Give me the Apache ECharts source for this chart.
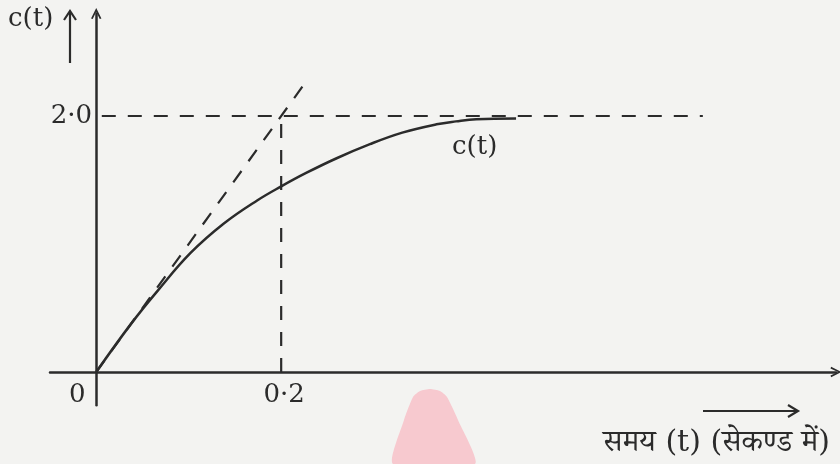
<!DOCTYPE html>
<html lang="hi">
<head>
<meta charset="utf-8">
<title>c(t)</title>
<script src="https://cdn.jsdelivr.net/npm/echarts@6/dist/echarts.min.js"></script>
<style>
  html, body { margin: 0; padding: 0; background: #f3f3f1; }
  #chart { width: 840px; height: 464px; }
</style>
</head>
<body>
<div id="chart"></div>
<script>
// response curve c(t)
var curveT = [0, 0.038, 0.067, 0.102, 0.138, 0.174, 0.2, 0.227, 0.26, 0.296, 0.331, 0.368, 0.389, 0.411, 0.454];
var curveC = [0, 0.38, 0.64, 0.93, 1.16, 1.34, 1.45, 1.555, 1.67, 1.78, 1.87, 1.935, 1.958, 1.975, 1.98];
// tangent at origin
var tangentT = [0, 0.228];
var tangentC = [0, 2.28];
// steady value guide and the 0.2 s guide
var steadyT = [0.006, 0.656];
var steadyC = [2.0, 2.0];
var markT = [0.2, 0.2];
var markC = [0, 2.0];
var xTicks = [0, 0.2];
var xTickText = ['0', '0·2'];
var yTicks = [2];
var yTickText = ['2·0'];

function pairs(xs, ys) {
  var out = [];
  for (var i = 0; i < xs.length; i++) out.push([xs[i], ys[i]]);
  return out;
}

var ink = '#2b2b2b';
var serif = '"DejaVu Serif", "Liberation Serif", serif';
var arrowHead = 'path://M0,10 L5,0 L10,10 L8.4,10.6 L5,3.4 L1.6,10.6 Z';
var dashed = { color: ink, width: 2.2, type: [14, 12] };

var chart = echarts.init(document.getElementById('chart'));
chart.setOption({
  backgroundColor: '#f3f3f1',
  animation: false,
  grid: { left: 50, right: 4, top: 13.6, bottom: 58.7 },
  xAxis: {
    type: 'value',
    min: -0.05,
    max: 0.8,
    axisLine: {
      onZero: true,
      symbol: ['none', arrowHead],
      symbolSize: [13, 11],
      lineStyle: { color: ink, width: 2.5 }
    },
    axisTick: { show: false },
    splitLine: { show: false },
    axisLabel: {
      customValues: xTicks,
      margin: -23,
      formatter: function (v) {
        var i = xTicks.indexOf(v);
        if (i === 0) return '{z|' + xTickText[i] + '}';
        return i >= 0 ? '{n|' + xTickText[i] + '}' : '';
      },
      rich: {
        z: { fontFamily: serif, fontSize: 26, color: ink, padding: [0, 38, 0, 0] },
        n: { fontFamily: serif, fontSize: 26, color: ink, padding: [0, 0, 0, 6] }
      }
    }
  },
  yAxis: {
    type: 'value',
    min: -0.26,
    max: 2.8,
    axisLine: {
      onZero: true,
      symbol: ['none', arrowHead],
      symbolSize: [13, 11],
      lineStyle: { color: ink, width: 2.5 }
    },
    axisTick: { show: false },
    splitLine: { show: false },
    axisLabel: {
      customValues: yTicks,
      margin: -42,
      fontFamily: serif,
      fontSize: 26,
      color: ink,
      formatter: function (v) {
        var i = yTicks.indexOf(v);
        return i >= 0 ? yTickText[i] : '';
      }
    }
  },
  series: [
    {
      type: 'line', data: pairs(steadyT, steadyC), showSymbol: false,
      lineStyle: dashed, z: 2
    },
    {
      type: 'line', data: pairs(markT, markC), showSymbol: false,
      lineStyle: dashed, z: 2
    },
    {
      type: 'line', data: pairs(tangentT, tangentC), showSymbol: false,
      lineStyle: dashed, z: 2
    },
    {
      type: 'line', data: pairs(curveT, curveC), showSymbol: false,
      smooth: 0.4,
      lineStyle: { color: ink, width: 2.5 }, z: 3
    }
  ],
  graphic: [
    // pink mark at the bottom of the scan
    {
      type: 'polygon', z: -1,
      shape: {
        points: [[393, 464], [404, 420], [413, 397], [420, 391], [430, 389], [440, 391], [447, 397], [458, 420], [475, 464]],
        smooth: 0.2
      },
      style: { fill: '#f7c9cf' }
    },
    // c(t) with up arrow, top left
    {
      type: 'text', left: 8, top: 6,
      style: { text: 'c(t)', font: '26px ' + serif, fill: ink }
    },
    {
      type: 'line', shape: { x1: 70, y1: 63, x2: 70, y2: 13 },
      style: { stroke: ink, lineWidth: 2.2 }
    },
    {
      type: 'polyline', shape: { points: [[64, 20], [70, 11], [76, 20]] },
      style: { stroke: ink, lineWidth: 2.2, fill: null }
    },
    // curve label
    {
      type: 'text', left: 452, top: 134,
      style: { text: 'c(t)', font: '26px ' + serif, fill: ink }
    },
    // time arrow and axis title
    {
      type: 'line', shape: { x1: 703, y1: 411, x2: 797, y2: 411 },
      style: { stroke: ink, lineWidth: 2.2 }
    },
    {
      type: 'polyline', shape: { points: [[788, 405], [798, 411], [788, 417]] },
      style: { stroke: ink, lineWidth: 2.2, fill: null }
    },
    {
      type: 'text', left: 603, top: 428,
      style: {
        text: 'समय (t) (सेकण्ड में)',
        font: '30px "DejaVu Serif", "Noto Serif Devanagari", "Noto Sans Devanagari", serif',
        fill: ink
      }
    }
  ]
});
</script>
</body>
</html>
